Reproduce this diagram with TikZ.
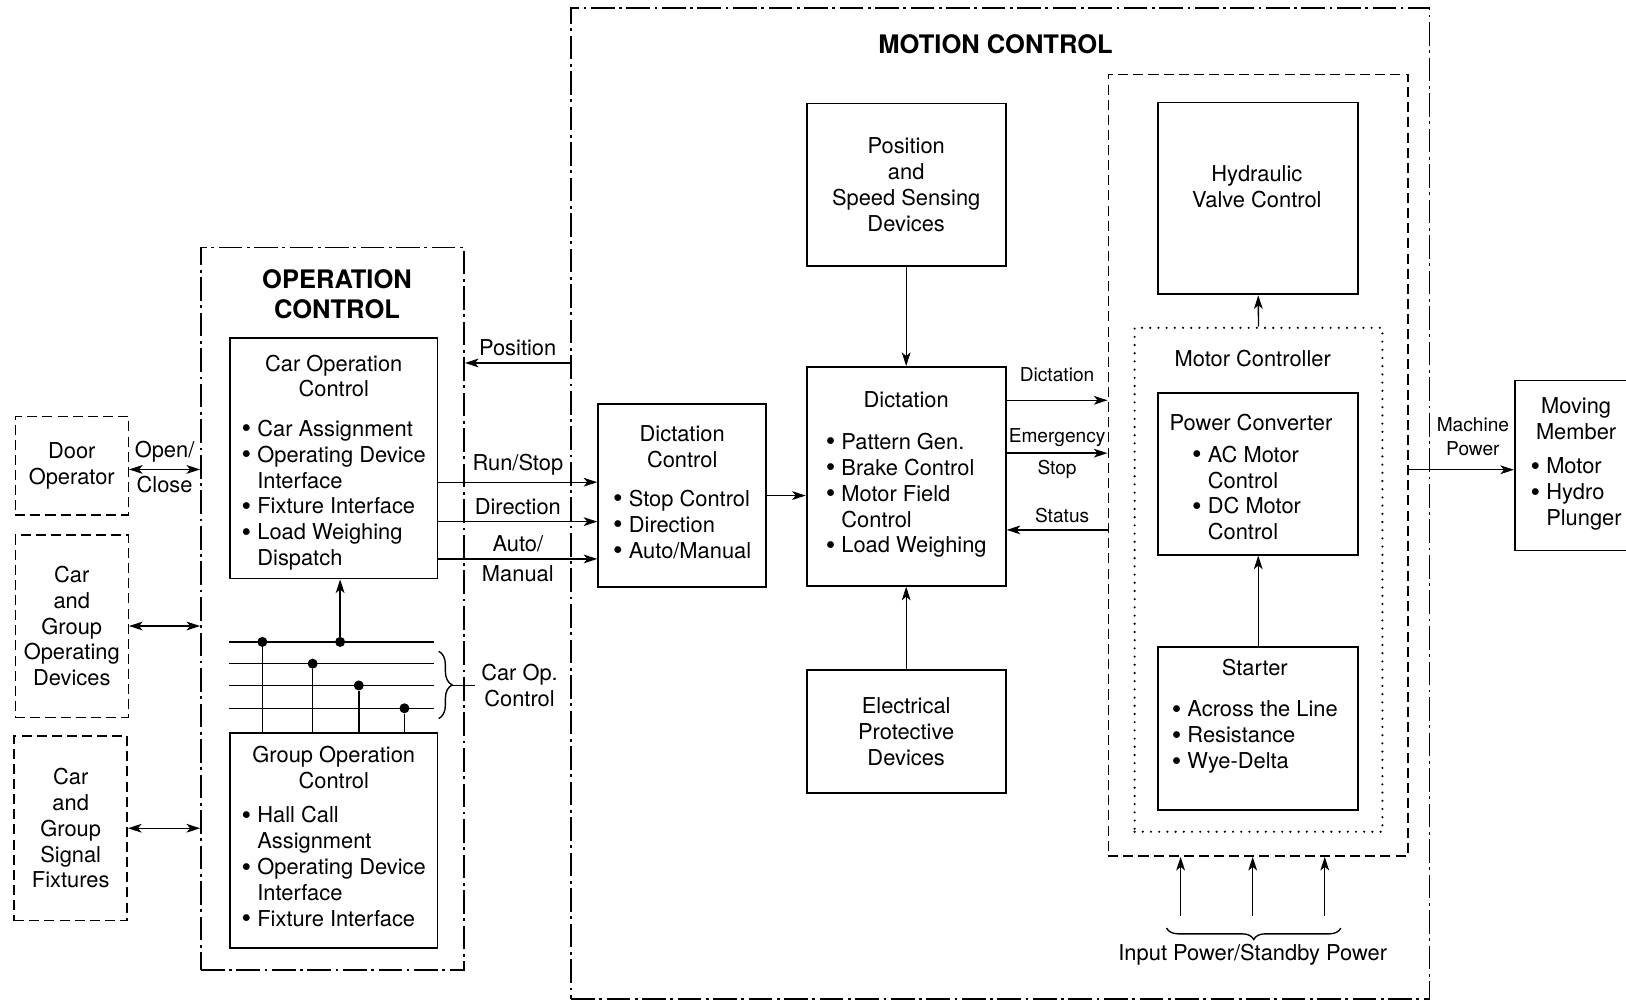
\documentclass[tikz,border=0pt]{standalone}
\usepackage{fontspec}
\setmainfont{TeX Gyre Heros}
\usetikzlibrary{arrows.meta, positioning, decorations.pathreplacing}

\newcommand{\blist}[1]{\begin{tabular}[t]{@{}l@{}}#1\end{tabular}}
\newcommand{\bitem}{\raisebox{-0.07em}{\scalebox{1.25}{\textbullet}}\ }
\newcommand{\bcont}{\phantom{\bitem}}

\begin{document}
\begin{tikzpicture}[
    x=0.02cm, y=-0.02cm,
    every node/.style={font=\fontsize{12}{14.2}\selectfont},
    block/.style={rectangle, draw, line width=1pt, anchor=north west,
                  inner sep=0pt, align=center},
    ext/.style={rectangle, draw, line width=0.8pt, dash pattern=on 5.5pt off 2.8pt,
                anchor=north west, inner sep=0pt, align=center},
    area/.style={rectangle, draw, line width=0.8pt,
                 dash pattern=on 13pt off 2.5pt on 1.5pt off 2.5pt,
                 anchor=north west, inner sep=0pt},
    dotbox/.style={rectangle, draw, line width=1.3pt, dash pattern=on 0pt off 4.5pt,
                   line cap=round, anchor=north west, inner sep=0pt},
    heading/.style={font=\fontsize{14}{16.5}\selectfont\bfseries, align=center},
    lbl/.style={font=\fontsize{10.5}{13}\selectfont, align=center},
    arrow/.style={-{Stealth[length=7.5pt, width=4.8pt, inset=2pt]}, line width=0.75pt},
    darrow/.style={{Stealth[length=7.5pt, width=4.8pt, inset=2pt]}-{Stealth[length=7.5pt, width=4.8pt, inset=2pt]},
                   line width=0.75pt},
    bus/.style={line width=0.8pt},
    tap/.style={circle, fill, inner sep=0pt, minimum size=5.5pt},
    brace/.style={decorate, line width=0.75pt},
]
\useasboundingbox (0,0) rectangle (1568,964);

%% --- Motion control area ---
\node[area, minimum width=16.56cm, minimum height=19.12cm] (motctl) at (550,7) {};
\node[heading] (motttl) at (960,43) {MOTION CONTROL};

%% --- Operation control area ---
\node[area, minimum width=5.08cm, minimum height=13.94cm] (opctl) at (193,238) {};
\node[heading] (opttl) at (325,284) {OPERATION\\CONTROL};

%% --- Car / group operation control ---
\node[block, minimum width=4cm, minimum height=4.64cm] (carop) at (221,325)
    {\rule{0pt}{15.4pt}Car Operation\\Control\\[0.26cm]
     \blist{\bitem Car Assignment\\ \bitem Operating Device\\ \bcont Interface\\
            \bitem Fixture Interface\\ \bitem Load Weighing\\ \bcont Dispatch}};
\node[block, minimum width=4cm, minimum height=4.14cm] (grpop) at (221,706)
    {Group Operation\\Control\\[0.16cm]
     \blist{\bitem Hall Call\\ \bcont Assignment\\ \bitem Operating Device\\
            \bcont Interface\\ \bitem Fixture Interface}};

%% --- External devices ---
\node[ext, minimum width=2.18cm, minimum height=1.9cm] (door) at (14,401) {Door\\Operator};
\node[ext, minimum width=2.18cm, minimum height=3.52cm] (cgopdev) at (14,515)
    {Car\\and\\Group\\Operating\\Devices};
\node[ext, minimum width=2.18cm, minimum height=3.56cm] (cgsig) at (13,709)
    {Car\\and\\Group\\Signal\\Fixtures};

\draw[darrow] ([yshift=-0.07cm]door.east) -- ([yshift=-0.07cm]door.east -| opctl.west)
    node[midway, above] {Open/} node[midway, below] {Close};
\draw[darrow] (cgopdev.east) -- (cgopdev.east -| opctl.west);
\draw[darrow] (cgsig.east) -- (cgsig.east -| opctl.west);

%% --- Bus between car and group operation ---
\foreach \yy in {619,640,661,683}
    \draw[bus, shorten >=0.08cm] (carop.west |- 0,\yy) -- (carop.east |- 0,\yy);
\node[tap] (tapA) at (253,619) {};
\node[tap] (tapB) at (328,619) {};
\node[tap] (tapC) at (301.5,640) {};
\node[tap] (tapD) at (346,661) {};
\node[tap] (tapE) at (390,683) {};
\draw[bus] (tapA) -- (tapA |- grpop.north);
\draw[bus] (tapC) -- (tapC |- grpop.north);
\draw[bus] (tapD) -- (tapD |- grpop.north);
\draw[bus] (tapE) -- (tapE |- grpop.north);
\draw[arrow] (tapB) -- (tapB |- carop.south);

\draw[brace, decoration={brace, amplitude=0.26cm}] (423,628) -- (423,693);
\coordinate (brtip) at (436,661);
\node[align=center] (caroplbl) at (501,661) {Car Op.\\Control};
\draw[line width=0.75pt] (brtip) -- (caroplbl.west);

%% --- Dictation ---
\node[block, minimum width=3.24cm, minimum height=3.52cm] (dictctl) at (576,389)
    {Dictation\\Control\\[0.26cm]
     \blist{\bitem Stop Control\\ \bitem Direction\\ \bitem Auto/Manual}};
\node[block, minimum width=3.84cm, minimum height=4.22cm] (dict) at (777,353)
    {Dictation\\[0.3cm]
     \blist{\bitem Pattern Gen.\\ \bitem Brake Control\\ \bitem Motor Field\\
            \bcont Control\\ \bitem Load Weighing}};
\node[block, minimum width=3.84cm, minimum height=3.14cm] (possense) at (777,99)
    {Position\\and\\Speed Sensing\\Devices};
\node[block, minimum width=3.84cm, minimum height=2.38cm] (epd) at (777,645)
    {Electrical\\Protective\\Devices};

%% --- Signals to dictation control ---
\draw[arrow] (motctl.west |- 0,350) -- (opctl.east |- 0,350)
    node[midway, above] {Position};
\draw[arrow] (carop.east |- 0,465) -- (dictctl.west |- 0,465)
    node[midway, above] {Run/Stop};
\draw[arrow] (carop.east |- 0,503) -- (dictctl.west |- 0,503)
    node[midway, above] {Direction};
\draw[arrow] (carop.east |- 0,539) -- (dictctl.west |- 0,539)
    node[midway, above] {Auto/} node[midway, below] {Manual};

\draw[arrow] (dictctl.east) -- (dictctl.east -| dict.west);
\draw[arrow] (possense.south) -- (dict.north);
\draw[arrow] (epd.north) -- (dict.south);

%% --- Drive ---
\node[ext, minimum width=5.78cm, minimum height=15.08cm] (drive) at (1068,71) {};
\node[block, minimum width=3.86cm, minimum height=3.7cm] (hyd) at (1116,98) {};
\node[align=center] (hydtxt) at (1212,180) {Hydraulic\\Valve Control};
\node[dotbox, minimum width=4.78cm, minimum height=9.72cm] (motorctl) at (1093,315) {};
\node (mctxt) at (1208,346) {Motor Controller};
\node[block, minimum width=3.86cm, minimum height=3.12cm] (pconv) at (1116,378)
    {\rule{0pt}{16.6pt}Power Converter\hspace*{0.28cm}\\[0.12cm]
     \blist{\bitem AC Motor\\ \bcont Control\\ \bitem DC Motor\\ \bcont Control}\hspace*{0.45cm}};
\node[block, minimum width=3.86cm, minimum height=3.14cm] (starter) at (1116,623) {};
\node[align=center] (sttxt) at (1210,692)
    {Starter\\[0.3cm]
     \blist{\bitem Across the Line\\ \bitem Resistance\\ \bitem Wye-Delta}};

\draw[arrow] (dict.east |- 0,386) -- (drive.west |- 0,386)
    node[lbl, midway, above, yshift=0.22cm] {Dictation};
\draw[arrow] (dict.east |- 0,437) -- (drive.west |- 0,437)
    node[lbl, midway, above] {Emergency} node[lbl, midway, below] {Stop};
\draw[arrow] (drive.west |- 0,511) -- (dict.east |- 0,511)
    node[lbl, pos=0.45, above] {Status};
\draw[arrow] (motorctl.north) -- (hyd.south);
\draw[arrow] (starter.north) -- (pconv.south);

%% --- Input power ---
\foreach \xx in {1138.5,1208,1277.5}
    \draw[arrow] (\xx,883) -- (drive.south -| \xx,0);
\draw[brace, decoration={brace, amplitude=0.22cm}] (1293,895) -- (1125,895);
\node (inplbl) at (1208,921) {Input Power/Standby Power};

%% --- Moving member ---
\node[block, minimum width=2.36cm, minimum height=3.28cm] (moving) at (1460,366)
    {Moving\\Member\\[0.16cm]
     \blist{\bitem Motor\\ \bitem Hydro\\ \bcont Plunger}};
\draw[arrow] (drive.east |- 0,453) -- (moving.west |- 0,453)
    node[lbl, pos=0.61, above, yshift=0.14cm] {Machine\\Power};

\end{tikzpicture}
\end{document}
